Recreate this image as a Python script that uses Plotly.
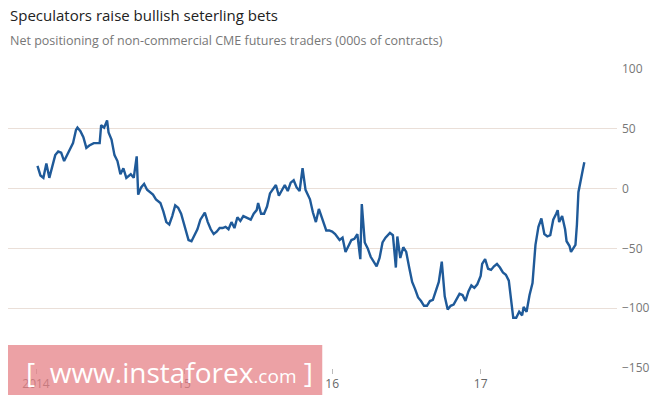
import pandas as pd
import plotly.graph_objects as go

# decimal years and net positions, 000s of contracts
years = [2014.01, 2014.03, 2014.05, 2014.07, 2014.09, 2014.11, 2014.13, 2014.15, 2014.17, 2014.19,
         2014.21, 2014.23, 2014.25, 2014.27, 2014.28, 2014.30, 2014.32, 2014.34, 2014.36, 2014.39,
         2014.41, 2014.43, 2014.44, 2014.46, 2014.48, 2014.49, 2014.51, 2014.53, 2014.55, 2014.57,
         2014.59, 2014.61, 2014.64, 2014.66, 2014.68, 2014.69, 2014.71, 2014.73, 2014.75, 2014.77,
         2014.79, 2014.81, 2014.84, 2014.86, 2014.88, 2014.90, 2014.92, 2014.94, 2014.96, 2014.98,
         2015.00, 2015.03, 2015.05, 2015.07, 2015.09, 2015.11, 2015.14, 2015.16, 2015.18, 2015.20,
         2015.22, 2015.24, 2015.26, 2015.28, 2015.30, 2015.32, 2015.34, 2015.36, 2015.38, 2015.40,
         2015.42, 2015.45, 2015.47, 2015.49, 2015.50, 2015.52, 2015.54, 2015.56, 2015.58, 2015.60,
         2015.62, 2015.64, 2015.66, 2015.68, 2015.70, 2015.72, 2015.74, 2015.76, 2015.78, 2015.80,
         2015.82, 2015.85, 2015.87, 2015.89, 2015.91, 2015.93, 2015.96, 2015.98, 2016.00, 2016.02,
         2016.05, 2016.07, 2016.09, 2016.11, 2016.13, 2016.15, 2016.17, 2016.19, 2016.20, 2016.22,
         2016.24, 2016.26, 2016.28, 2016.30, 2016.32, 2016.34, 2016.36, 2016.39, 2016.41, 2016.43,
         2016.44, 2016.46, 2016.48, 2016.50, 2016.52, 2016.54, 2016.56, 2016.58, 2016.60, 2016.62,
         2016.64, 2016.66, 2016.68, 2016.70, 2016.72, 2016.74, 2016.76, 2016.78, 2016.80, 2016.82,
         2016.84, 2016.86, 2016.88, 2016.90, 2016.92, 2016.94, 2016.96, 2016.98, 2017.00, 2017.01,
         2017.03, 2017.05, 2017.07, 2017.09, 2017.11, 2017.13, 2017.15, 2017.17, 2017.19, 2017.20,
         2017.22, 2017.24, 2017.26, 2017.28, 2017.29, 2017.31, 2017.33, 2017.35, 2017.37, 2017.39,
         2017.41, 2017.43, 2017.45, 2017.47, 2017.49, 2017.51, 2017.52, 2017.53, 2017.55, 2017.57,
         2017.58, 2017.60, 2017.61, 2017.64, 2017.65, 2017.66, 2017.68, 2017.69, 2017.70]
net = [19, 11, 9, 21, 9, 19, 28, 31, 30, 23,
       28, 33, 38, 49, 51, 48, 43, 34, 36, 38,
       38, 38, 53, 51, 57, 47, 41, 28, 23, 12,
       17, 9, 12, 9, 27, -5, 1, 4, -1, -3,
       -5, -9, -12, -19, -28, -30, -23, -14, -16, -21,
       -30, -43, -44, -39, -34, -26, -20, -28, -34, -38,
       -36, -33, -33, -32, -34, -28, -33, -24, -27, -23,
       -24, -26, -21, -18, -12, -21, -21, -15, -4, 0,
       3, -6, -1, 3, -2, 5, 7, 1, -2, 17,
       -1, -9, -20, -28, -17, -24, -35, -35, -36, -38,
       -43, -41, -53, -48, -43, -42, -38, -59, -13, -45,
       -50, -57, -61, -65, -58, -45, -41, -37, -39, -66,
       -40, -58, -49, -53, -66, -78, -84, -91, -94, -98,
       -98, -94, -93, -86, -78, -61, -90, -101, -98, -97,
       -92, -88, -89, -94, -86, -81, -83, -80, -73, -63,
       -59, -67, -68, -65, -63, -66, -70, -72, -77, -88,
       -108, -108, -103, -106, -99, -103, -89, -79, -47, -32,
       -25, -38, -40, -39, -26, -21, -18, -28, -23, -34,
       -44, -48, -53, -47, -30, -3, 8, 16, 22]

tick_vals = ["2014-01-01", "2015-01-01", "2016-01-01", "2017-01-01"]
tick_text = ["2014", "15", "16", "17"]
y_ticks = [100, 50, 0, -50, -100, -150]


def to_date(y):
    yr = int(y)
    start = pd.Timestamp(f"{yr}-01-01")
    return start + pd.Timedelta(days=(y - yr) * 365)


dates = [to_date(y) for y in years]

fig = go.Figure()
fig.add_trace(go.Scatter(
    x=dates, y=net, mode="lines",
    line=dict(color="#1f5a99", width=2.4),
    hoverinfo="skip", showlegend=False,
))

# the page has an 8px body margin, so the figure is sized and offset for it
fig.update_layout(
    width=657, height=392,
    margin=dict(l=0, r=48, t=61, b=32),
    paper_bgcolor="white", plot_bgcolor="white",
    font=dict(family="Open Sans", color="#555"),
    annotations=[
        dict(text="Speculators raise bullish seterling bets", xref="paper", yref="paper",
             x=0, xshift=0, y=1.0, yshift=54, xanchor="left", yanchor="middle", showarrow=False,
             font=dict(size=15, color="#222")),
        dict(text="Net positioning of non-commercial CME futures traders (000s of contracts)",
             xref="paper", yref="paper", x=0, xshift=0, y=1.0, yshift=29, xanchor="left",
             yanchor="middle", showarrow=False, font=dict(size=12.5, color="#777")),
        dict(text="[  www.instaforex<span style='font-size:19px'>.com</span> ]",
             xref="paper", yref="paper", x=0.265, y=0.0, yshift=-4, xanchor="center",
             yanchor="middle", showarrow=False, font=dict(size=28, color="white", family="Open Sans")),
    ],
    shapes=[dict(type="rect", xref="paper", yref="paper", x0=0, x1=0.516,
                 ysizemode="pixel", yanchor=0, y0=-27, y1=23, layer="above",
                 line=dict(width=0), fillcolor="rgba(230,130,135,0.75)")],
)

fig.update_xaxes(
    range=["2013-10-24", "2017-12-03"],
    tickvals=tick_vals, ticktext=tick_text,
    showgrid=False, ticks="outside", ticklen=5, tickcolor="#bbb",
    tickfont=dict(size=12, color="#666"), showline=False, zeroline=False,
)
fig.update_yaxes(
    range=[-150, 100], side="right", tickvals=y_ticks,
    gridcolor="#eadfd8", gridwidth=1, zeroline=False,
    tickfont=dict(size=12, color="#777"), ticks="", ticklabelstandoff=4,
)

fig.write_html("out.html")
